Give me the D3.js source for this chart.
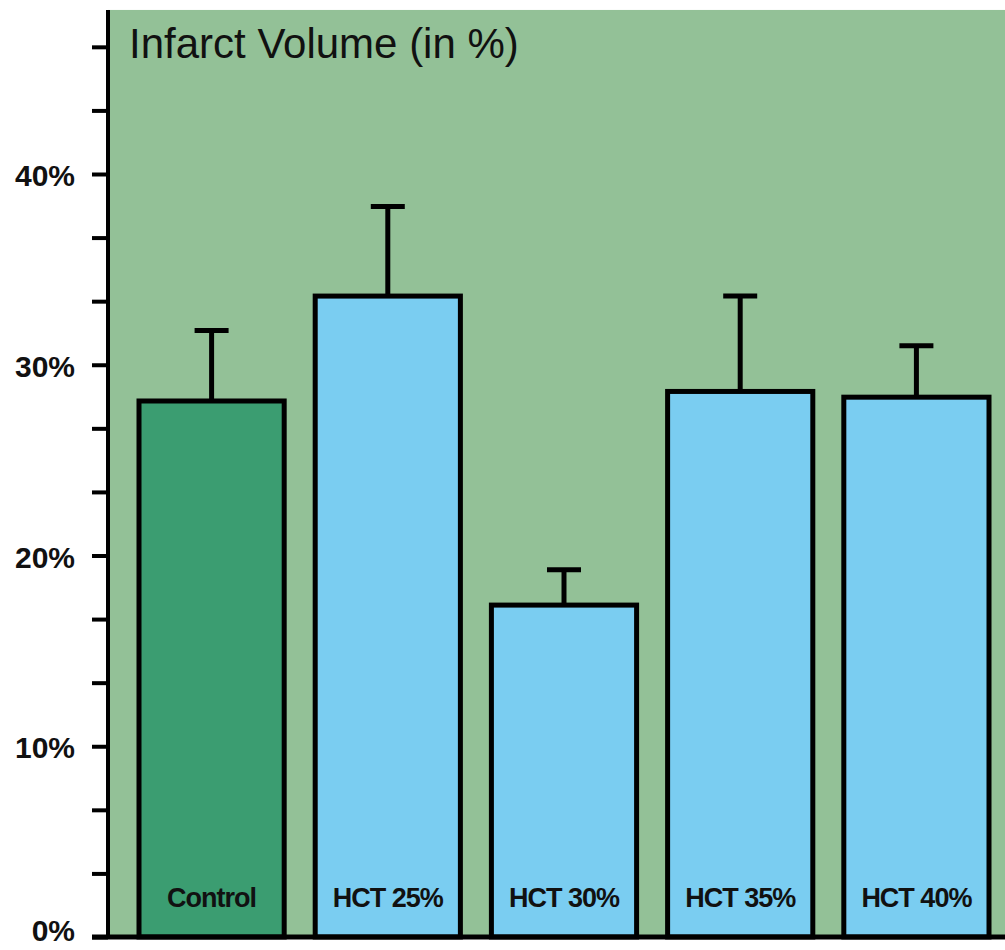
<!DOCTYPE html>
<html><head><meta charset="utf-8">
<script src="https://cdn.jsdelivr.net/npm/d3@7"></script>
<style>
html,body{margin:0;padding:0;background:#fff;}
svg{display:block;font-family:"Liberation Sans",Arial,Helvetica,sans-serif;}
</style></head>
<body>
<svg id="chart" width="1005" height="950"></svg>
<script>
const categories = ["Control", "HCT 25%", "HCT 30%", "HCT 35%", "HCT 40%"];
const values = [28.1, 33.6, 17.4, 28.6, 28.3];
const errors = [3.7, 4.7, 1.85, 5.0, 2.7];
const barColors = ["#3b9d71", "#7acdf1", "#7acdf1", "#7acdf1", "#7acdf1"];
const majorTicks = [0, 10, 20, 30, 40];
const tickLabels = ["0%", "10%", "20%", "30%", "40%"];
const minorTicks = [0, 10/3, 20/3, 10, 40/3, 50/3, 20, 70/3, 80/3, 30, 100/3, 110/3, 40, 130/3, 140/3];
const axisTop = 48.6;
const title = "Infarct Volume (in %)";

const svg = d3.select("#chart");
const W = 1005;
const y = d3.scaleLinear().domain([0, 40]).range([937, 174]);
const x = d3.scaleBand().domain(categories).range([139, 989]).paddingInner(0.176).paddingOuter(0);
const axisX = 108;

// background panel
svg.append("rect")
  .attr("x", axisX).attr("y", y(axisTop))
  .attr("width", W - axisX).attr("height", y(0) - y(axisTop))
  .attr("fill", "#93c197");

// title
svg.append("text")
  .attr("x", 129).attr("y", y(axisTop) + 48)
  .attr("font-size", 42).attr("fill", "#111")
  .text(title);

// error bars
const eb = svg.append("g");
categories.forEach((c, i) => {
  const cx = x(c) + x.bandwidth() / 2;
  eb.append("line")
    .attr("x1", cx).attr("x2", cx)
    .attr("y1", y(values[i])).attr("y2", y(values[i] + errors[i]))
    .attr("stroke", "#000").attr("stroke-width", 5);
  eb.append("line")
    .attr("x1", cx - 17).attr("x2", cx + 17)
    .attr("y1", y(values[i] + errors[i])).attr("y2", y(values[i] + errors[i]))
    .attr("stroke", "#000").attr("stroke-width", 5);
});

// bars
svg.append("g").selectAll("rect").data(categories).join("rect")
  .attr("x", d => x(d))
  .attr("y", (d, i) => y(values[i]))
  .attr("width", x.bandwidth())
  .attr("height", (d, i) => y(0) - y(values[i]))
  .attr("fill", (d, i) => barColors[i])
  .attr("stroke", "#000").attr("stroke-width", 5);

// bar labels
svg.append("g").selectAll("text").data(categories).join("text")
  .attr("x", d => x(d) + x.bandwidth() / 2)
  .attr("y", y(0) - 30)
  .attr("text-anchor", "middle")
  .attr("font-size", 27).attr("font-weight", "bold")
  .attr("letter-spacing", "-1")
  .attr("fill", "#111")
  .text(d => d);

// y axis
const axis = d3.axisLeft(y)
  .tickValues(minorTicks)
  .tickSize(16)
  .tickSizeOuter(0)
  .tickFormat(() => "");
const gAxis = svg.append("g").attr("transform", `translate(${axisX},0)`).call(axis);
gAxis.select(".domain").remove();
gAxis.selectAll(".tick line").attr("stroke", "#000").attr("stroke-width", 4);
gAxis.append("line")
  .attr("x1", 0).attr("x2", 0)
  .attr("y1", y(axisTop)).attr("y2", y(0))
  .attr("stroke", "#000").attr("stroke-width", 4);

// major labels
svg.append("g").selectAll("text").data(majorTicks).join("text")
  .attr("x", 75)
  .attr("y", d => Math.min(y(d) + 12, 941))
  .attr("text-anchor", "end")
  .attr("font-size", 30).attr("font-weight", "bold")
  .attr("fill", "#111")
  .text((d, i) => tickLabels[i]);

// baseline
svg.append("line")
  .attr("x1", axisX - 16).attr("x2", W)
  .attr("y1", y(0)).attr("y2", y(0))
  .attr("stroke", "#000").attr("stroke-width", 5);
</script>
</body></html>
